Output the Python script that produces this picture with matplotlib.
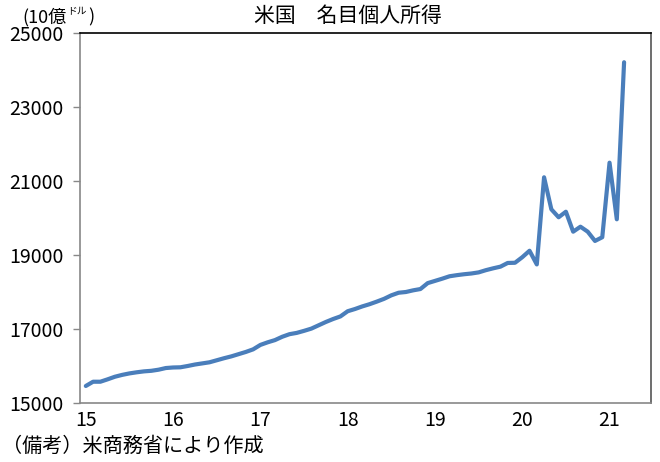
import matplotlib

matplotlib.use("Agg")
import matplotlib.pyplot as plt
from matplotlib.transforms import offset_copy

# monthly nominal personal income, Jan 2015 - Mar 2021 (billion USD, SAAR)
income = [
    15460, 15575, 15575, 15640, 15710, 15760, 15800, 15830, 15855, 15870, 15900, 15945,
    15960, 15965, 16000, 16040, 16070, 16100, 16155, 16210, 16260, 16320, 16380, 16450,
    16570, 16640, 16700, 16790, 16860, 16895, 16950, 17010, 17100, 17190, 17270, 17340,
    17480, 17540, 17610, 17670, 17740, 17815, 17910, 17980, 18000, 18045, 18080, 18240,
    18300, 18360, 18425, 18455, 18480, 18500, 18530, 18590, 18640, 18685, 18785, 18790,
    18940, 19115, 18745, 21100, 20235, 20020, 20170, 19630, 19765, 19630, 19380, 19480,
    21495, 19965, 24210,
]
year_labels = ["15", "16", "17", "18", "19", "20", "21"]
y_ticks = [15000, 17000, 19000, 21000, 23000, 25000]

plt.rcParams["font.family"] = ["Noto Sans CJK JP", "DejaVu Sans"]

fig = plt.figure(figsize=(6.6, 4.62), dpi=100)
ax = fig.add_axes([80 / 660, 1 - 403 / 462, 571 / 660, 370 / 462])

ax.plot(range(len(income)), income, color="#4a7ebb", lw=3, solid_capstyle="round")

ax.set_ylim(15000, 25000)
ax.set_xlim(-0.8, 77.7)
ax.set_yticks(y_ticks, [str(v) for v in y_ticks], fontsize=14)
ax.set_xticks(range(0, 12 * len(year_labels), 12), year_labels, fontsize=14)
ax.tick_params(axis="x", length=0, pad=5)
ax.tick_params(axis="y", length=5, width=1, color="#888888", pad=7)

for side in ["left", "bottom"]:
    ax.spines[side].set_color("#888888")
ax.spines["top"].set_color("black")
ax.spines["right"].set_color("#555555")
for s in ax.spines.values():
    s.set_linewidth(1.2)

fig.text(348 / 660, 1 - 16 / 462, "米国　名目個人所得", ha="center", va="center", fontsize=15)

# unit label: "(10億" + small raised "ドル" + ")"
t1 = fig.text(22 / 660, 1 - 17 / 462, "(10億", ha="left", va="center", fontsize=13)
fig.canvas.draw()
x1 = t1.get_window_extent().x1
t2 = fig.text(x1 / 660 + 0.002, 1 - 11 / 462, "ドル", ha="left", va="center", fontsize=7)
fig.canvas.draw()
x2 = t2.get_window_extent().x1
fig.text(x2 / 660 + 0.002, 1 - 17 / 462, ")", ha="left", va="center", fontsize=13)

fig.text(2 / 660, 1 - 446 / 462, "（備考）米商務省により作成", ha="left", va="center", fontsize=14.5)

fig.savefig("out.png", dpi=100)
